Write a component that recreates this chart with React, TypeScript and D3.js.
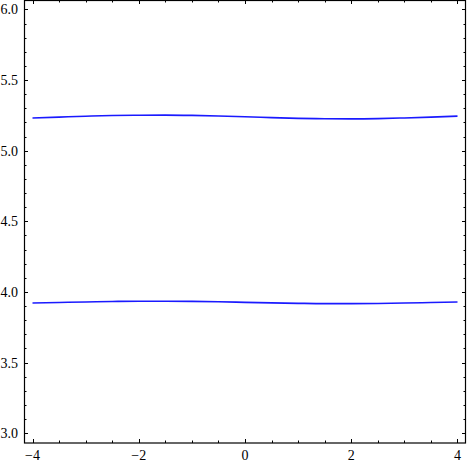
import { useRef, useEffect } from 'react';
import * as d3 from 'd3';

const xs = [-4, -3.5, -3, -2.5, -2, -1.5, -1, -0.5, 0, 0.5, 1, 1.5, 2, 2.5, 3, 3.5, 4];
const upper = [5.232, 5.238, 5.244, 5.249, 5.251, 5.252, 5.250, 5.246, 5.240, 5.234, 5.229, 5.226, 5.225, 5.227, 5.232, 5.238, 5.245];
const lower = [3.921, 3.925, 3.929, 3.932, 3.934, 3.934, 3.933, 3.930, 3.926, 3.922, 3.919, 3.917, 3.917, 3.918, 3.921, 3.925, 3.929];
const xTicks = [-4, -2, 0, 2, 4];
const yTicks = [3.0, 3.5, 4.0, 4.5, 5.0, 5.5, 6.0];

export default function App() {
  const ref = useRef<SVGSVGElement>(null);

  useEffect(() => {
    if (!ref.current) return;
    const W = 468, H = 465;
    const L = 24, R = 466, T = 1, B = 443;
    const svg = d3.select(ref.current);
    svg.selectAll('*').remove();

    const x = d3.scaleLinear().domain([-4.16, 4.16]).range([L, R]);
    const y = d3.scaleLinear().domain([2.93, 6.06]).range([B, T]);
    const font = '"Liberation Serif", "Times New Roman", serif';

    // curves
    const line = d3.line<number>()
      .x((_, i) => x(xs[i]))
      .y(d => y(d))
      .curve(d3.curveMonotoneX);
    [upper, lower].forEach(s => {
      svg.append('path').datum(s)
        .attr('fill', 'none')
        .attr('stroke', '#1a1aff')
        .attr('stroke-width', 1.6)
        .attr('d', line);
    });

    // frame
    svg.append('rect')
      .attr('x', L + 0.5).attr('y', T - 0.5)
      .attr('width', R - L - 1).attr('height', B - T + 0.5)
      .attr('fill', 'none').attr('stroke', '#000').attr('stroke-width', 1.2);

    // ticks, inward on all four sides
    const xMinor = d3.range(-4, 4.01, 0.5).filter(v => !xTicks.includes(v));
    const yMinor = d3.range(30, 61, 1).map(v => v / 10).filter(v => !yTicks.some(t => Math.abs(t - v) < 1e-6));
    const tk = svg.append('g').attr('stroke', '#000').attr('stroke-width', 1);
    const xt = (v: number, len: number) => {
      const px = Math.round(x(v)) + 0.5;
      tk.append('line').attr('x1', px).attr('x2', px).attr('y1', B).attr('y2', B - len);
      tk.append('line').attr('x1', px).attr('x2', px).attr('y1', T - 1).attr('y2', T - 1 + len);
    };
    const yt = (v: number, len: number) => {
      const py = Math.round(y(v)) + 0.5;
      tk.append('line').attr('y1', py).attr('y2', py).attr('x1', L).attr('x2', L + len);
      tk.append('line').attr('y1', py).attr('y2', py).attr('x1', R).attr('x2', R - len);
    };
    xTicks.forEach(v => xt(v, 4));
    xMinor.forEach(v => xt(v, 2.5));
    yTicks.forEach(v => yt(v, 4));
    yMinor.forEach(v => yt(v, 2.5));

    // labels
    xTicks.forEach(v => {
      svg.append('text')
        .attr('x', x(v)).attr('y', 460)
        .attr('text-anchor', 'middle')
        .attr('font-family', font).attr('font-size', 14)
        .attr('fill', '#000')
        .text(v < 0 ? `\u2212${Math.abs(v)}` : `${v}`);
    });
    yTicks.forEach(v => {
      svg.append('text')
        .attr('x', 18).attr('y', y(v) + 5)
        .attr('text-anchor', 'end')
        .attr('font-family', font).attr('font-size', 14)
        .attr('fill', '#000')
        .text(v.toFixed(1));
    });
    svg.attr('width', W).attr('height', H);
  }, []);

  return (
    <svg ref={ref} width={468} height={465}
      style={{ position: 'absolute', left: 0, top: 0, background: '#fff' }} />
  );
}
